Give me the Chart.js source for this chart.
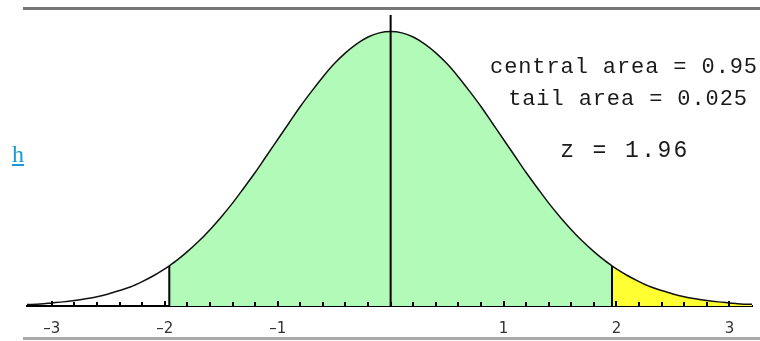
<!DOCTYPE html>
<html>
<head>
<meta charset="utf-8">
<script src="https://cdn.jsdelivr.net/npm/chart.js@4.4.1/dist/chart.umd.min.js"></script>
<style>
  body { margin: 0; background: #fff; }
  #wrap { position: relative; width: 760px; height: 341px; overflow: hidden; }
  #zChart { position: absolute; left: 0; top: 0; }
  .rule { position: absolute; left: 23px; width: 737px; }
  .note {
    position: absolute; white-space: nowrap; line-height: 1;
    font-family: "Liberation Mono", "DejaVu Sans Mono", monospace; color: #1a1a1a;
    transform: translateX(-50%);
  }
  #link {
    position: absolute; left: 12px; top: 142px; line-height: 1;
    font-family: "Liberation Serif", serif; font-size: 24px;
    color: rgb(22, 155, 215); text-decoration: underline;
  }
</style>
</head>
<body>
<div id="wrap">
  <canvas id="zChart" width="760" height="341"></canvas>
  <div class="rule" style="top:7px;height:3px;background:#777;"></div>
  <div class="rule" style="top:337px;height:3px;background:#aaa;"></div>
  <span id="link">h</span>
  <div class="note" style="left:624px;top:57px;font-size:22px;letter-spacing:0.9px;">central area = 0.95</div>
  <div class="note" style="left:628px;top:89px;font-size:22px;letter-spacing:0.9px;">tail area = 0.025</div>
  <div class="note" style="left:625px;top:140px;font-size:23px;letter-spacing:2.4px;">z = 1.96</div>
</div>
<script>
// === Curve (z, height) ===
const zValues = [
  -3.22, -3.1, -3.0, -2.9, -2.8, -2.7, -2.6, -2.5, -2.4, -2.3, -2.2, -2.1, -2.0, -1.96,
  -1.9, -1.8, -1.7, -1.6, -1.5, -1.4, -1.3, -1.2, -1.1, -1.0, -0.9, -0.8, -0.7, -0.6,
  -0.5, -0.4, -0.3, -0.2, -0.1, 0,
  0.1, 0.2, 0.3, 0.4, 0.5, 0.6, 0.7, 0.8, 0.9, 1.0, 1.1, 1.2, 1.3, 1.4, 1.5, 1.6, 1.7,
  1.8, 1.9, 1.96, 2.0, 2.1, 2.2, 2.3, 2.4, 2.5, 2.6, 2.7, 2.8, 2.9, 3.0, 3.1, 3.2
];
const density = [
  0.002, 0.003, 0.0045, 0.006, 0.008, 0.0105, 0.0135, 0.0175, 0.0225, 0.028, 0.0355, 0.044, 0.054, 0.0585,
  0.0655, 0.079, 0.094, 0.111, 0.1295, 0.1495, 0.1715, 0.194, 0.218, 0.242, 0.266, 0.29, 0.312, 0.333,
  0.352, 0.368, 0.381, 0.391, 0.397, 0.399,
  0.397, 0.391, 0.381, 0.368, 0.352, 0.333, 0.312, 0.29, 0.266, 0.242, 0.218, 0.194, 0.1715, 0.1495, 0.1295, 0.111, 0.094,
  0.079, 0.0655, 0.0585, 0.054, 0.044, 0.0355, 0.028, 0.0225, 0.0175, 0.0135, 0.0105, 0.008, 0.006, 0.0045, 0.003, 0.0025
];

// critical value and the vertical markers
const zCritical = 1.96;
const markerX = [-1.96, 0, 1.96];
const markerTop = [0.0585, 0.423, 0.0585];

// axis ticks and labels
const axisTicks = [
  -3, -2.8, -2.6, -2.4, -2.2, -2, -1.8, -1.6, -1.4, -1.2, -1, -0.8, -0.6, -0.4, -0.2, 0,
  0.2, 0.4, 0.6, 0.8, 1, 1.2, 1.4, 1.6, 1.8, 2, 2.2, 2.4, 2.6, 2.8, 3
];
const labelValues = [-3, -2, -1, 1, 2, 3];
const labelTexts = ["\u20133", "\u20132", "\u20131", "1", "2", "3"];

const points = zValues.map((z, i) => ({ x: z, y: density[i] }));
const leftTail = points.filter((p) => p.x <= -zCritical);
const central = points.filter((p) => p.x >= -zCritical && p.x <= zCritical);
const rightTail = points.filter((p) => p.x >= zCritical);

const curveStyle = {
  borderColor: "#111",
  borderWidth: 1.5,
  pointRadius: 0,
  cubicInterpolationMode: "monotone",
};

// vertical markers as two-point lines
const markerSets = markerX.map((x, i) => ({
  data: [{ x: x, y: 0 }, { x: x, y: markerTop[i] }],
  borderColor: "#000",
  borderWidth: 2,
  pointRadius: 0,
  fill: false,
  order: 0,
}));

// === Small upward tick marks on the baseline ===
const tickMarks = {
  id: "tickMarks",
  afterDatasetsDraw(chart) {
    const { ctx, chartArea, scales } = chart;
    const x = scales.x;
    ctx.save();
    ctx.strokeStyle = "#000";
    ctx.lineWidth = 2;
    x.ticks.forEach((t) => {
      const px = Math.round(x.getPixelForValue(t.value));
      const len = labelValues.includes(t.value) ? 5 : 4;
      ctx.beginPath();
      ctx.moveTo(px, chartArea.bottom);
      ctx.lineTo(px, chartArea.bottom - len);
      ctx.stroke();
    });
    ctx.restore();
  },
};

const ctx = document.getElementById("zChart").getContext("2d");
new Chart(ctx, {
  type: "line",
  data: {
    datasets: [
      ...markerSets,
      { ...curveStyle, data: leftTail, fill: false, order: 1 },
      { ...curveStyle, data: central, fill: "origin", backgroundColor: "rgb(178, 250, 183)", order: 1 },
      { ...curveStyle, data: rightTail, fill: "origin", backgroundColor: "rgb(255, 255, 50)", order: 1 },
    ],
  },
  options: {
    responsive: false,
    animation: false,
    layout: { padding: { left: 27, right: 8, top: 15, bottom: 0 } },
    plugins: { legend: { display: false }, tooltip: { enabled: false } },
    scales: {
      x: {
        type: "linear",
        min: -3.22,
        max: 3.2,
        afterBuildTicks: (s) => {
          s.ticks = axisTicks.map((v) => ({ value: v }));
        },
        afterFit: (s) => {
          s.height = 35;
        },
        grid: { display: true, drawOnChartArea: false, drawTicks: false },
        border: { display: true, color: "#000", width: 2 },
        ticks: {
          autoSkip: false,
          maxRotation: 0,
          padding: 14,
          color: "#333",
          font: { family: "DejaVu Sans", size: 15 },
          callback: (value) => {
            const i = labelValues.indexOf(value);
            return i >= 0 ? labelTexts[i] : "";
          },
        },
      },
      y: { display: false, min: 0, max: 0.423 },
    },
  },
  plugins: [tickMarks],
});
</script>
</body>
</html>
